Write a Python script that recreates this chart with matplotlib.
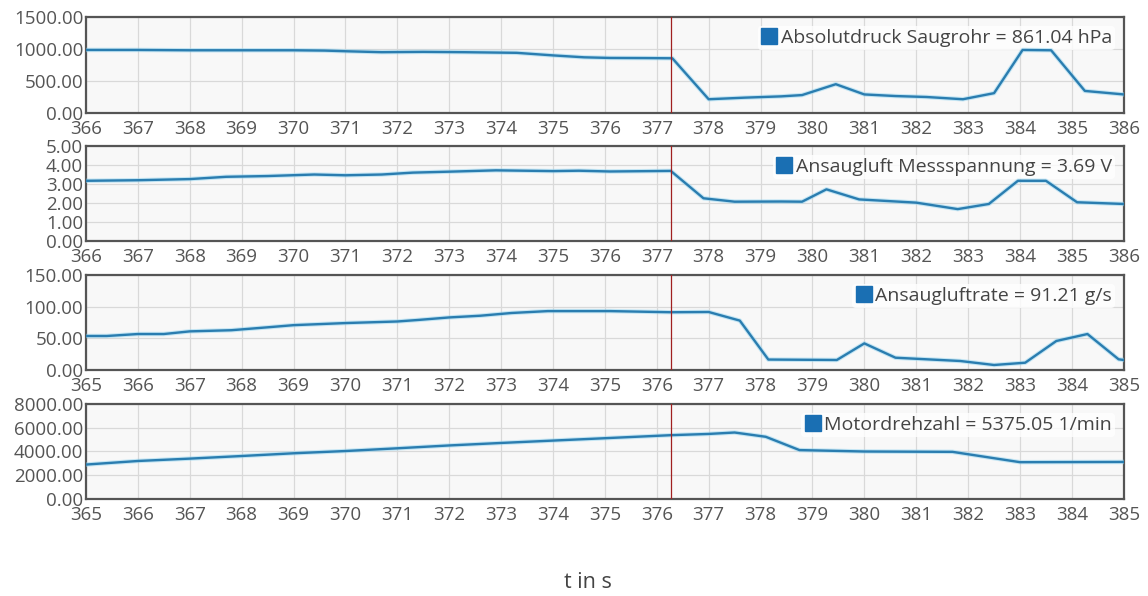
import matplotlib
matplotlib.use("Agg")
import matplotlib.pyplot as plt
from matplotlib.lines import Line2D
from matplotlib.ticker import FormatStrFormatter, MultipleLocator
from matplotlib.transforms import ScaledTranslation

plt.rcParams['font.family'] = ['Open Sans', 'DejaVu Sans']

# Panel 1: Absolutdruck Saugrohr (hPa)
t1 = [366, 367, 368, 369, 370, 370.6, 371, 371.7, 372.5, 373.3, 374.3, 375.0, 375.6, 376.1,
      376.8, 377.3, 378.0, 378.7, 379.4, 379.8, 380.45, 381.0, 381.6, 382.2, 382.9, 383.5,
      384.05, 384.6, 385.25, 386.0]
p1 = [985, 985, 980, 980, 980, 975, 965, 950, 955, 950, 940, 900, 870, 860,
      858, 855, 215, 240, 260, 280, 450, 290, 265, 250, 215, 310,
      985, 980, 345, 290]

# Panel 2: Ansaugluft Messspannung (V)
t2 = [366, 367, 368, 368.7, 369.5, 370.4, 371, 371.7, 372.3, 373.0, 373.9, 375.0, 375.5,
      376.1, 377.27, 377.9, 378.5, 379.4, 379.8, 380.27, 380.9, 382.0, 382.8, 383.4,
      383.96, 384.5, 385.1, 386.0]
p2 = [3.17, 3.2, 3.26, 3.38, 3.42, 3.5, 3.46, 3.5, 3.6, 3.65, 3.72, 3.68, 3.7,
      3.66, 3.69, 2.25, 2.07, 2.08, 2.07, 2.72, 2.19, 2.02, 1.68, 1.95,
      3.17, 3.17, 2.04, 1.95]

# Panel 3: Ansaugluftrate (g/s)
t3 = [365, 365.4, 366, 366.5, 367, 367.8, 368.5, 369, 370, 371, 371.4, 372.0, 372.6, 373.2,
      373.9, 375.1, 376.27, 377.0, 377.6, 378.15, 379.47, 380.0, 380.6, 381.85, 382.5,
      383.1, 383.7, 384.3, 384.9, 385.0]
p3 = [53.7, 53.7, 56.8, 56.8, 61, 62.8, 67.4, 70.8, 74.1, 76.6, 79, 83, 85.7, 90,
      93, 93, 91.2, 91.6, 78, 16.5, 15.8, 42, 19.4, 14.2, 7.9,
      11.5, 45.8, 56.8, 16.9, 15.8]

# Panel 4: Motordrehzahl (1/min)
t4 = [365, 366, 367, 368, 369, 370, 371, 372, 373, 374, 375, 376.27, 377, 377.5, 378.1,
      378.75, 380, 381.7, 383.0, 385.0]
p4 = [2900, 3200, 3400, 3620, 3850, 4040, 4270, 4510, 4720, 4920, 5120, 5375, 5480, 5600, 5240,
      4120, 4000, 3970, 3100, 3120]

labels = ["Absolutdruck Saugrohr = 861.04 hPa",
          "Ansaugluft Messspannung = 3.69 V",
          "Ansaugluftrate = 91.21 g/s",
          "Motordrehzahl = 5375.05 1/min"]
xlims = [(366, 386), (366, 386), (365, 385), (365, 385)]
ylims = [(0, 1500), (0, 5), (0, 150), (0, 8000)]
ysteps = [500, 1, 50, 2000]
cursor = [377.27, 377.27, 376.27, 376.27]

fig = plt.figure(figsize=(11.48, 5.96), dpi=100)
left, width = 0.0749, 0.904
boxes = [(0.8104, 0.9715), (0.5956, 0.755), (0.3792, 0.5386), (0.1628, 0.3221)]

line_color = '#2a7db0'
txt_color = '#555555'
series = [(t1, p1), (t2, p2), (t3, p3), (t4, p4)]
axes = []

for i, ((b, tp), (t, p)) in enumerate(zip(boxes, series)):
    ax = fig.add_axes([left, b, width, tp - b])
    axes.append(ax)
    ax.set_facecolor('#f8f8f8')
    ax.plot(t, p, color='#8fd3f0', lw=3.2, alpha=0.5, zorder=3)
    ax.plot(t, p, color=line_color, lw=1.7, zorder=4)
    ax.axvline(cursor[i], color='#a02020', lw=0.9, zorder=5)
    ax.set_xlim(*xlims[i])
    ax.set_ylim(*ylims[i])
    ax.xaxis.set_major_locator(MultipleLocator(1))
    ax.yaxis.set_major_locator(MultipleLocator(ysteps[i]))
    ax.yaxis.set_major_formatter(FormatStrFormatter('%.2f'))
    ax.grid(True, color='#d9d9d9', lw=0.9, zorder=0)
    ax.set_axisbelow(True)
    for s in ax.spines.values():
        s.set_color('#555555')
        s.set_linewidth(1.6)
    ax.tick_params(axis='y', length=0, labelsize=13.5, colors=txt_color, pad=2)
    ax.tick_params(axis='x', length=0, labelsize=13.5, colors=txt_color, pad=5)
    handle = Line2D([], [], marker='s', color='#1a6fb3', linestyle='none', markersize=11)
    leg = ax.legend([handle], [labels[i]], loc='upper right', fontsize=14,
                    frameon=True, facecolor='white', edgecolor='none', framealpha=0.8,
                    handletextpad=0.15, borderpad=0.15, handlelength=0.9,
                    borderaxespad=0.45)
    leg.set_zorder(2.5)
    for txt in leg.get_texts():
        txt.set_color('#444444')

fig.text(588 / 1148, 1 - 583 / 596, "t in s", ha='center', va='center', fontsize=15.5, color='#444444')

fig.canvas.draw()
shift = ScaledTranslation(0, 4 / 100, fig.dpi_scale_trans)
for ax in axes:
    lab = ax.yaxis.get_major_ticks()[0].label1
    lab.set_transform(lab.get_transform() + shift)

fig.savefig("out.png", dpi=100)
